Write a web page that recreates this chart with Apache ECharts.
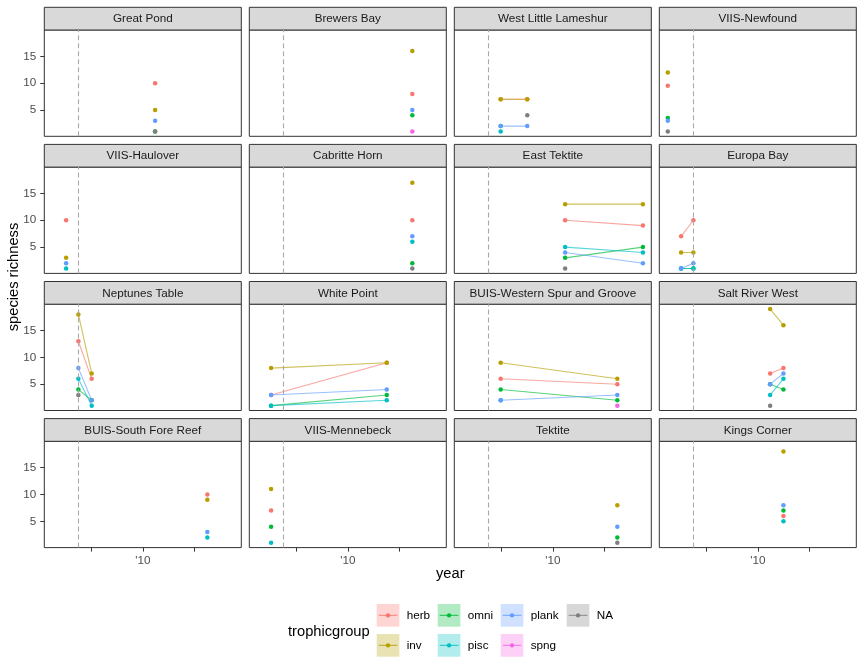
<!DOCTYPE html>
<html>
<head>
<meta charset="utf-8">
<script src="https://cdn.jsdelivr.net/npm/echarts@6/dist/echarts.min.js"></script>
<style>
  html, body { margin: 0; padding: 0; background: #fff; }
  #chart { width: 864px; height: 672px; }
</style>
</head>
<body>
<div id="chart"></div>
<script>
// trophic groups and their ggplot hue colours
const groups = ['herb', 'inv', 'omni', 'pisc', 'plank', 'spng', 'NA'];
const groupColors = ['#F8766D', '#B79F00', '#00BA38', '#00BFC4', '#619CFF', '#F564E3', '#7F7F7F'];

const sites = [
  'Great Pond', 'Brewers Bay', 'West Little Lameshur', 'VIIS-Newfound',
  'VIIS-Haulover', 'Cabritte Horn', 'East Tektite', 'Europa Bay',
  'Neptunes Table', 'White Point', 'BUIS-Western Spur and Groove', 'Salt River West',
  'BUIS-South Fore Reef', 'VIIS-Mennebeck', 'Tektite', 'Kings Corner'
];

// rows: [trophicgroup, year, species richness]
const greatPond = [['herb', 2011.2, 10], ['inv', 2011.2, 5], ['plank', 2011.2, 3], ['omni', 2011.2, 1], ['NA', 2011.2, 1]];
const brewersBay = [['inv', 2016.3, 16], ['herb', 2016.3, 8], ['plank', 2016.3, 5], ['omni', 2016.3, 4], ['spng', 2016.3, 1]];
const westLittleLameshur = [
  ['herb', 2004.9, 7], ['herb', 2007.5, 7], ['inv', 2004.9, 7], ['inv', 2007.5, 7],
  ['NA', 2007.5, 4], ['plank', 2004.9, 2], ['plank', 2007.5, 2], ['omni', 2004.9, 2], ['pisc', 2004.9, 1]
];
const viisNewfound = [['inv', 2001.2, 12], ['herb', 2001.2, 9.5], ['omni', 2001.2, 3.5], ['plank', 2001.2, 3], ['NA', 2001.2, 1]];
const viisHaulover = [['herb', 2002.5, 10], ['inv', 2002.5, 3], ['plank', 2002.5, 2], ['pisc', 2002.5, 1]];
const cabritteHorn = [['inv', 2016.3, 17], ['herb', 2016.3, 10], ['plank', 2016.3, 7], ['pisc', 2016.3, 6], ['omni', 2016.3, 2], ['NA', 2016.3, 1]];
const eastTektite = [
  ['inv', 2011.2, 13], ['inv', 2018.8, 13], ['herb', 2011.2, 10], ['herb', 2018.8, 9],
  ['pisc', 2011.2, 5], ['pisc', 2018.8, 4], ['plank', 2011.2, 4], ['plank', 2018.8, 2],
  ['omni', 2011.2, 3], ['omni', 2018.8, 5], ['NA', 2011.2, 1]
];
const europaBay = [
  ['herb', 2002.5, 7], ['herb', 2003.7, 10], ['inv', 2002.5, 4], ['inv', 2003.7, 4],
  ['omni', 2002.5, 1], ['omni', 2003.7, 1], ['pisc', 2002.5, 1], ['pisc', 2003.7, 1],
  ['plank', 2002.5, 1], ['plank', 2003.7, 2]
];
const neptunesTable = [
  ['inv', 2003.7, 18], ['inv', 2005.0, 7], ['herb', 2003.7, 13], ['herb', 2005.0, 6],
  ['plank', 2003.7, 8], ['plank', 2005.0, 2], ['pisc', 2003.7, 6], ['pisc', 2005.0, 1],
  ['omni', 2003.7, 4], ['omni', 2005.0, 2], ['NA', 2003.7, 3]
];
const whitePoint = [
  ['inv', 2002.5, 8], ['inv', 2013.8, 9], ['herb', 2002.5, 3], ['herb', 2013.8, 9],
  ['plank', 2002.5, 3], ['plank', 2013.8, 4], ['omni', 2002.5, 1], ['omni', 2013.8, 3],
  ['pisc', 2002.5, 1], ['pisc', 2013.8, 2]
];
const buisWesternSpur = [
  ['inv', 2004.9, 9], ['inv', 2016.3, 6], ['herb', 2004.9, 6], ['herb', 2016.3, 5],
  ['omni', 2004.9, 4], ['omni', 2016.3, 2], ['plank', 2004.9, 2], ['plank', 2016.3, 3],
  ['pisc', 2004.9, 2], ['spng', 2016.3, 1]
];
const saltRiverWest = [
  ['inv', 2011.2, 19], ['inv', 2012.5, 16], ['herb', 2011.2, 7], ['herb', 2012.5, 8],
  ['plank', 2011.2, 5], ['plank', 2012.5, 7], ['pisc', 2011.2, 3], ['pisc', 2012.5, 6],
  ['omni', 2011.2, 5], ['omni', 2012.5, 4], ['NA', 2011.2, 1]
];
const buisSouthForeReef = [['herb', 2016.3, 10], ['inv', 2016.3, 9], ['plank', 2016.3, 3], ['pisc', 2016.3, 2]];
const viisMennebeck = [['inv', 2002.5, 11], ['herb', 2002.5, 7], ['omni', 2002.5, 4], ['pisc', 2002.5, 1]];
const tektite = [['inv', 2016.3, 8], ['plank', 2016.3, 4], ['omni', 2016.3, 2], ['NA', 2016.3, 1]];
const kingsCorner = [['inv', 2012.5, 18], ['plank', 2012.5, 8], ['omni', 2012.5, 7], ['herb', 2012.5, 6], ['pisc', 2012.5, 5]];

const siteData = [
  greatPond, brewersBay, westLittleLameshur, viisNewfound,
  viisHaulover, cabritteHorn, eastTektite, europaBay,
  neptunesTable, whitePoint, buisWesternSpur, saltRiverWest,
  buisSouthForeReef, viisMennebeck, tektite, kingsCorner
];

const xTicks = [2005, 2010, 2015];
const xLabels = [2010];
const yTicks = [5, 10, 15];
const eventYear = 2003.73;

// panel geometry
const FONT = '"Liberation Sans", Arial, Helvetica, sans-serif';
const panelLeft0 = 44.3, colStep = 205, panelW = 197;
const panelTop0 = 30, rowStep = 137.1, panelH = 106.3, stripH = 22.7;

const grids = [], xAxes = [], yAxes = [], series = [], graphics = [];

sites.forEach((site, i) => {
  const r = Math.floor(i / 4), c = i % 4;
  const left = panelLeft0 + c * colStep;
  const top = panelTop0 + r * rowStep;
  grids.push({
    left: left, top: top, width: panelW, height: panelH,
    show: true, borderColor: '#333333', borderWidth: 1, backgroundColor: '#fff',
    containLabel: false, outerBoundsMode: 'none'
  });
  const bottomRow = r === 3, firstCol = c === 0;
  xAxes.push({
    type: 'value', gridIndex: i, min: 2000.37, max: 2019.62,
    axisLine: { show: false },
    splitLine: { show: false },
    axisTick: { show: bottomRow, customValues: xTicks, length: 4, lineStyle: { color: '#333' } },
    axisLabel: {
      show: bottomRow, customValues: xLabels, margin: 7,
      color: '#4D4D4D', fontSize: 11.7, fontFamily: FONT,
      formatter: v => "'" + String(v).slice(2)
    }
  });
  yAxes.push({
    type: 'value', gridIndex: i, min: 0.1, max: 19.9,
    axisLine: { show: false },
    splitLine: { show: false },
    axisTick: { show: firstCol, customValues: yTicks, length: 4, lineStyle: { color: '#333' } },
    axisLabel: {
      show: firstCol, customValues: yTicks, margin: 8,
      color: '#4D4D4D', fontSize: 11.7, fontFamily: FONT
    }
  });

  // dashed reference year
  series.push({
    type: 'line', xAxisIndex: i, yAxisIndex: i, data: [], silent: true, z: 1,
    markLine: {
      symbol: 'none', silent: true, animation: false,
      label: { show: false },
      lineStyle: { type: [5, 3], color: '#A9A9A9', width: 1.1 },
      data: [{ xAxis: eventYear }]
    }
  });

  const rows = siteData[i];
  groups.forEach((g, k) => {
    const pts = rows.filter(d => d[0] === g).map(d => [d[1], d[2]]).sort((a, b) => a[0] - b[0]);
    if (pts.length > 1) {
      series.push({
        type: 'line', xAxisIndex: i, yAxisIndex: i, data: pts, z: 2,
        showSymbol: false, symbol: 'none', silent: true,
        lineStyle: { color: groupColors[k], width: 1.1, opacity: 0.65 }
      });
    }
  });
  groups.forEach((g, k) => {
    const pts = rows.filter(d => d[0] === g).map(d => [d[1], d[2]]);
    if (pts.length) {
      series.push({
        type: 'scatter', xAxisIndex: i, yAxisIndex: i, data: pts, z: 3,
        symbol: 'circle', symbolSize: 4.5, silent: true,
        itemStyle: { color: groupColors[k], opacity: 1 }
      });
    }
  });

  // facet strip
  graphics.push({
    type: 'rect', shape: { x: left, y: top - stripH, width: panelW, height: stripH },
    style: { fill: '#D9D9D9', stroke: '#333333', lineWidth: 1 }
  });
  graphics.push({
    type: 'text', x: left + panelW / 2, y: top - stripH / 2 + 0.5,
    style: { text: site, fill: '#1A1A1A', font: '11.7px ' + FONT, align: 'center', verticalAlign: 'middle' }
  });
});

// axis titles
graphics.push({
  type: 'text', x: 450.3, y: 574,
  style: { text: 'year', fill: '#000', font: '14.7px ' + FONT, align: 'center', verticalAlign: 'middle' }
});
graphics.push({
  type: 'text', x: 14, y: 277, rotation: Math.PI / 2,
  style: { text: 'species richness', fill: '#000', font: '14.7px ' + FONT, align: 'center', verticalAlign: 'middle' }
});

// legend
const keyCol = [0, 0, 1, 1, 2, 2, 3], keyRow = [0, 1, 0, 1, 0, 1, 0];
const keyX = [376.7, 437.7, 500.7, 566.7], keyY = [604, 634], keySize = 22.7;
graphics.push({
  type: 'text', x: 288, y: 631.5,
  style: { text: 'trophicgroup', fill: '#000', font: '14.7px ' + FONT, align: 'left', verticalAlign: 'middle' }
});
groups.forEach((g, k) => {
  const x = keyX[keyCol[k]], y = keyY[keyRow[k]], cy = y + keySize / 2;
  graphics.push({
    type: 'rect', shape: { x: x, y: y, width: keySize, height: keySize },
    style: { fill: groupColors[k], opacity: 0.3 }
  });
  graphics.push({
    type: 'line', shape: { x1: x + 2, y1: cy, x2: x + keySize - 2, y2: cy },
    style: { stroke: groupColors[k], lineWidth: 1.1, opacity: 0.8 }
  });
  graphics.push({
    type: 'circle', shape: { cx: x + keySize / 2, cy: cy, r: 2.2 },
    style: { fill: groupColors[k] }
  });
  graphics.push({
    type: 'text', x: x + keySize + 7.3, y: cy,
    style: { text: g, fill: '#000', font: '11.7px ' + FONT, align: 'left', verticalAlign: 'middle' }
  });
});

const chart = echarts.init(document.getElementById('chart'), null, { renderer: 'canvas', width: 864, height: 672 });
chart.setOption({
  animation: false,
  backgroundColor: '#fff',
  grid: grids,
  xAxis: xAxes,
  yAxis: yAxes,
  series: series,
  graphic: graphics
});
</script>
</body>
</html>
